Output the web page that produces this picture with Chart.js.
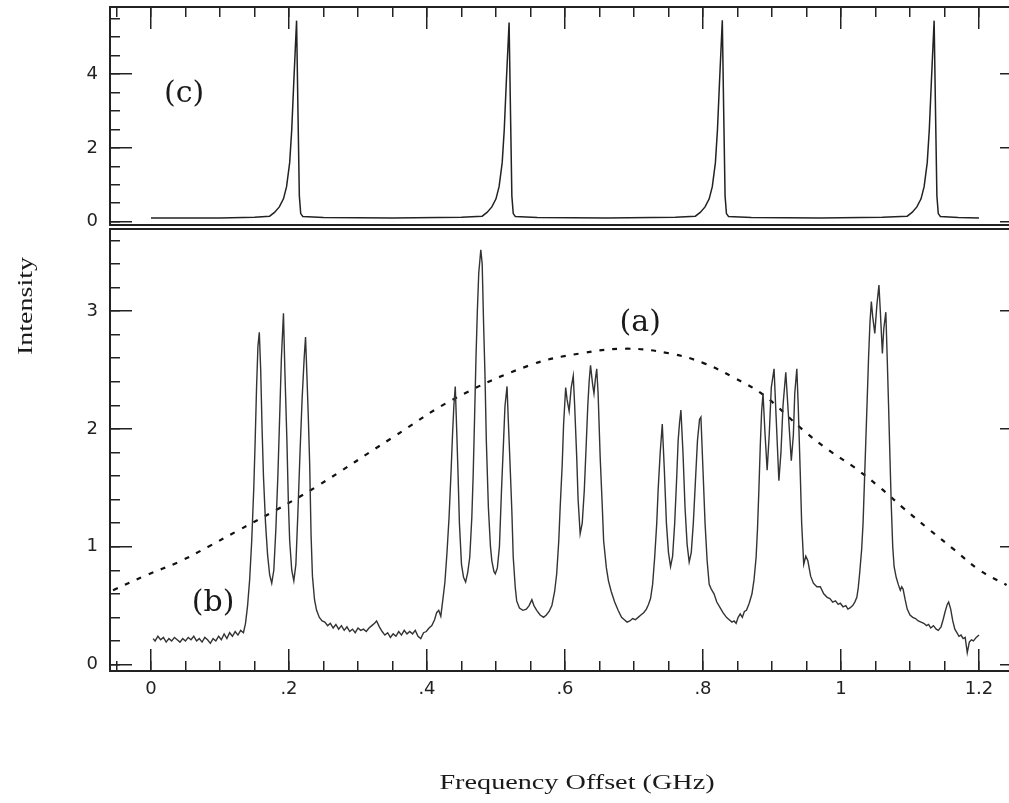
<!DOCTYPE html>
<html lang="en">
<head>
  <meta charset="UTF-8">
  <title>Frequency Offset spectrum</title>
  <style>
    body { margin: 0; background: #fff; }
    #wrap { position: relative; width: 1009px; height: 803px; overflow: hidden; }
    #wrap canvas { position: absolute; left: 0; top: 0; }
    .ttl { position: absolute; font-family: "Liberation Serif", serif; font-size: 20px; line-height: 20px;
           color: #1a1a1a; text-align: center; white-space: nowrap; }
    #xTitle { left: 327px; top: 772px; width: 500px; transform: scaleX(1.41); }
    #yTitle { left: -75px; top: 296px; width: 200px; transform: rotate(-90deg) scaleX(1.4); }
  </style>
</head>
<body>
  <div id="wrap">
    <canvas id="topChart" width="1009" height="803"></canvas>
    <canvas id="bottomChart" width="1009" height="803"></canvas>
    <div class="ttl" id="xTitle">Frequency Offset (GHz)</div>
    <div class="ttl" id="yTitle">Intensity</div>
  </div>

  <script src="https://cdn.jsdelivr.net/npm/chart.js"></script>
  <script>
    // shared frequency axis (GHz)
    const xMin = -0.0594, xMax = 1.2435;
    const xTickValues = [0, 0.2, 0.4, 0.6, 0.8, 1, 1.2];
    const xTickLabels = ['0', '.2', '.4', '.6', '.8', '1', '1.2'];

    // upper panel, trace (c)
    const topYMin = -0.09, topYMax = 5.82;
    const topTickValues = [0, 2, 4];
    const topTickLabels = ['0', '2', '4'];
    const traceC = [
      [0, 0.10], [0.10, 0.10], [0.15, 0.12], [0.172, 0.15], [0.179, 0.25], [0.186, 0.40], [0.192, 0.62],
      [0.1965, 0.95], [0.201, 1.6], [0.204, 2.5], [0.207, 3.8], [0.211, 5.45], [0.213, 3.0], [0.215, 0.7],
      [0.217, 0.22], [0.220, 0.14], [0.25, 0.11], [0.35, 0.10], [0.45, 0.12],
      [0.480, 0.15], [0.487, 0.25], [0.494, 0.40], [0.500, 0.62], [0.5045, 0.95], [0.509, 1.6], [0.512, 2.5],
      [0.515, 3.8], [0.519, 5.40], [0.521, 3.0], [0.523, 0.7], [0.525, 0.22], [0.528, 0.14],
      [0.56, 0.11], [0.66, 0.10], [0.76, 0.12],
      [0.789, 0.15], [0.796, 0.25], [0.803, 0.40], [0.809, 0.62], [0.8135, 0.95], [0.818, 1.6], [0.821, 2.5],
      [0.824, 3.8], [0.828, 5.46], [0.830, 3.0], [0.832, 0.7], [0.834, 0.22], [0.837, 0.14],
      [0.87, 0.11], [0.97, 0.10], [1.06, 0.12],
      [1.096, 0.15], [1.103, 0.25], [1.110, 0.40], [1.116, 0.62], [1.1205, 0.95], [1.125, 1.6], [1.128, 2.5],
      [1.131, 3.8], [1.135, 5.45], [1.137, 3.0], [1.139, 0.7], [1.141, 0.22], [1.144, 0.14],
      [1.17, 0.11], [1.20, 0.10]
    ];

    // lower panel, traces (b) and (a)
    const botYMin = -0.055, botYMax = 3.696;
    const botTickValues = [0, 1, 2, 3];
    const botTickLabels = ['0', '1', '2', '3'];
    const traceB = [
      [0.003, 0.22], [0.006, 0.20], [0.010, 0.24], [0.014, 0.21], [0.018, 0.23], [0.022, 0.19], [0.026, 0.22],
      [0.030, 0.20], [0.034, 0.23], [0.038, 0.21], [0.042, 0.19], [0.046, 0.22], [0.050, 0.20], [0.054, 0.23],
      [0.058, 0.21], [0.062, 0.24], [0.066, 0.20], [0.070, 0.22], [0.074, 0.19], [0.078, 0.23], [0.082, 0.21],
      [0.086, 0.18], [0.090, 0.22], [0.094, 0.20], [0.098, 0.24], [0.102, 0.21], [0.106, 0.26], [0.110, 0.22],
      [0.114, 0.27], [0.118, 0.24], [0.122, 0.28], [0.126, 0.25], [0.130, 0.29], [0.134, 0.27],
      [0.137, 0.35], [0.140, 0.50], [0.143, 0.72], [0.146, 1.05], [0.149, 1.50], [0.151, 1.90], [0.153, 2.35],
      [0.155, 2.70], [0.157, 2.82], [0.159, 2.50], [0.161, 2.00], [0.163, 1.60], [0.166, 1.20], [0.169, 0.93],
      [0.172, 0.76], [0.175, 0.69], [0.178, 0.80], [0.181, 1.15], [0.184, 1.62], [0.187, 2.20], [0.189, 2.60],
      [0.192, 2.98], [0.194, 2.50], [0.197, 1.90], [0.199, 1.40], [0.201, 1.05], [0.204, 0.80], [0.207, 0.71],
      [0.210, 0.85], [0.213, 1.30], [0.216, 1.80], [0.219, 2.25], [0.222, 2.60], [0.224, 2.78], [0.226, 2.45],
      [0.228, 2.10], [0.230, 1.70], [0.232, 1.10], [0.234, 0.75], [0.237, 0.55], [0.240, 0.46], [0.244, 0.40],
      [0.248, 0.37], [0.252, 0.36], [0.256, 0.33], [0.260, 0.35], [0.264, 0.31], [0.268, 0.34], [0.272, 0.30],
      [0.276, 0.33], [0.280, 0.29], [0.284, 0.32], [0.288, 0.28], [0.292, 0.30], [0.296, 0.27], [0.300, 0.31],
      [0.304, 0.29], [0.308, 0.30], [0.312, 0.28], [0.316, 0.31], [0.320, 0.33], [0.324, 0.35], [0.327, 0.37],
      [0.331, 0.32], [0.335, 0.28], [0.339, 0.25], [0.343, 0.27], [0.347, 0.23], [0.351, 0.26], [0.355, 0.24],
      [0.359, 0.28], [0.363, 0.25], [0.367, 0.29], [0.371, 0.26], [0.375, 0.28], [0.379, 0.26], [0.383, 0.29],
      [0.387, 0.24], [0.391, 0.22], [0.395, 0.27], [0.399, 0.28], [0.403, 0.31], [0.407, 0.33], [0.411, 0.38],
      [0.414, 0.44], [0.417, 0.46], [0.420, 0.41], [0.423, 0.55], [0.426, 0.70], [0.429, 0.95], [0.432, 1.25],
      [0.435, 1.65], [0.437, 1.95], [0.439, 2.20], [0.441, 2.36], [0.443, 2.00], [0.445, 1.62], [0.447, 1.20],
      [0.450, 0.85], [0.453, 0.74], [0.456, 0.70], [0.459, 0.78], [0.462, 0.91], [0.465, 1.25], [0.467, 1.62],
      [0.469, 2.10], [0.471, 2.60], [0.473, 3.00], [0.475, 3.32], [0.478, 3.52], [0.480, 3.40], [0.482, 2.90],
      [0.484, 2.47], [0.486, 1.90], [0.489, 1.33], [0.492, 1.00], [0.494, 0.88], [0.497, 0.79], [0.499, 0.77],
      [0.502, 0.82], [0.505, 1.00], [0.508, 1.48], [0.511, 1.90], [0.513, 2.19], [0.516, 2.36], [0.518, 2.05],
      [0.520, 1.76], [0.523, 1.30], [0.525, 0.91], [0.528, 0.65], [0.530, 0.54], [0.534, 0.48], [0.539, 0.46],
      [0.544, 0.47], [0.548, 0.50], [0.552, 0.55], [0.555, 0.50], [0.559, 0.46], [0.564, 0.42], [0.569, 0.40],
      [0.573, 0.42], [0.577, 0.45], [0.581, 0.50], [0.585, 0.62], [0.588, 0.77], [0.591, 1.05], [0.593, 1.33],
      [0.596, 1.70], [0.598, 2.04], [0.601, 2.35], [0.603, 2.25], [0.606, 2.15], [0.609, 2.35], [0.612, 2.45],
      [0.614, 2.20], [0.617, 1.76], [0.619, 1.40], [0.622, 1.11], [0.625, 1.20], [0.628, 1.48], [0.631, 1.90],
      [0.633, 2.19], [0.635, 2.40], [0.637, 2.54], [0.640, 2.38], [0.642, 2.30], [0.644, 2.42], [0.646, 2.51],
      [0.648, 2.30], [0.651, 1.76], [0.654, 1.35], [0.656, 1.05], [0.660, 0.82], [0.663, 0.71], [0.667, 0.62],
      [0.672, 0.53], [0.677, 0.46], [0.682, 0.40], [0.686, 0.38], [0.690, 0.36], [0.694, 0.37], [0.698, 0.39],
      [0.702, 0.38], [0.706, 0.40], [0.710, 0.42], [0.714, 0.44], [0.718, 0.47], [0.721, 0.51], [0.724, 0.56],
      [0.727, 0.68], [0.730, 0.91], [0.733, 1.20], [0.735, 1.48], [0.738, 1.80], [0.741, 2.04], [0.744, 1.65],
      [0.747, 1.20], [0.750, 0.95], [0.753, 0.83], [0.756, 0.92], [0.759, 1.20], [0.762, 1.60], [0.764, 1.90],
      [0.766, 2.05], [0.768, 2.16], [0.771, 1.80], [0.774, 1.33], [0.777, 1.02], [0.780, 0.87], [0.783, 0.95],
      [0.786, 1.20], [0.789, 1.55], [0.792, 1.90], [0.795, 2.08], [0.797, 2.10], [0.800, 1.65], [0.803, 1.20],
      [0.806, 0.88], [0.809, 0.68], [0.812, 0.64], [0.816, 0.60], [0.820, 0.53], [0.825, 0.48], [0.829, 0.44],
      [0.834, 0.40], [0.838, 0.38], [0.842, 0.36], [0.845, 0.37], [0.848, 0.35], [0.851, 0.40], [0.854, 0.43],
      [0.857, 0.40], [0.860, 0.45], [0.863, 0.46], [0.867, 0.52], [0.871, 0.60], [0.874, 0.72], [0.877, 0.91],
      [0.879, 1.15], [0.881, 1.48], [0.883, 1.85], [0.885, 2.15], [0.887, 2.30], [0.890, 1.95], [0.893, 1.65],
      [0.896, 1.95], [0.899, 2.35], [0.903, 2.51], [0.906, 2.10], [0.910, 1.56], [0.913, 1.80], [0.916, 2.20],
      [0.920, 2.48], [0.924, 2.10], [0.928, 1.73], [0.931, 1.95], [0.933, 2.30], [0.936, 2.51], [0.938, 2.20],
      [0.941, 1.62], [0.943, 1.20], [0.946, 0.85], [0.949, 0.92], [0.952, 0.88], [0.956, 0.75], [0.960, 0.69],
      [0.965, 0.66], [0.970, 0.66], [0.975, 0.60], [0.980, 0.57], [0.984, 0.56], [0.988, 0.53], [0.992, 0.54],
      [0.996, 0.51], [0.999, 0.52], [1.003, 0.49], [1.007, 0.50], [1.010, 0.47], [1.013, 0.48], [1.017, 0.50],
      [1.020, 0.53], [1.023, 0.57], [1.025, 0.65], [1.027, 0.77], [1.030, 0.98], [1.032, 1.20], [1.034, 1.55],
      [1.036, 1.90], [1.038, 2.25], [1.040, 2.61], [1.042, 2.90], [1.044, 3.08], [1.046, 2.95], [1.049, 2.81],
      [1.052, 3.05], [1.055, 3.22], [1.057, 3.00], [1.060, 2.64], [1.062, 2.85], [1.065, 2.99], [1.067, 2.60],
      [1.069, 2.19], [1.071, 1.75], [1.073, 1.33], [1.075, 1.00], [1.077, 0.83], [1.080, 0.74], [1.083, 0.68],
      [1.086, 0.63], [1.088, 0.66], [1.090, 0.64], [1.093, 0.55], [1.096, 0.47], [1.100, 0.42], [1.104, 0.40],
      [1.108, 0.39], [1.112, 0.37], [1.116, 0.36], [1.120, 0.35], [1.124, 0.33], [1.127, 0.34], [1.130, 0.31],
      [1.134, 0.33], [1.138, 0.30], [1.141, 0.29], [1.145, 0.32], [1.148, 0.38], [1.151, 0.45], [1.154, 0.51],
      [1.156, 0.53], [1.159, 0.47], [1.162, 0.37], [1.165, 0.30], [1.168, 0.27], [1.171, 0.24], [1.174, 0.25],
      [1.177, 0.22], [1.180, 0.23], [1.183, 0.10], [1.186, 0.19], [1.189, 0.21], [1.192, 0.20], [1.196, 0.23],
      [1.200, 0.25]
    ];
    const curveA = [
      [-0.055, 0.63], [-0.006, 0.76], [0.040, 0.87], [0.083, 1.00], [0.124, 1.13], [0.184, 1.32], [0.240, 1.51],
      [0.351, 1.93], [0.438, 2.25], [0.549, 2.54], [0.622, 2.64], [0.690, 2.68], [0.752, 2.64], [0.800, 2.56],
      [0.843, 2.44], [0.887, 2.29], [0.945, 1.99], [0.982, 1.82], [1.020, 1.67], [1.057, 1.50], [1.090, 1.33],
      [1.129, 1.14], [1.165, 0.97], [1.201, 0.80], [1.240, 0.675]
    ];

    // panel letters, placed at data coordinates
    const topNotes = ['(c)'];
    const topNotePos = [[0.048, 3.46]];
    const bottomNotes = ['(a)', '(b)'];
    const bottomNotePos = [[0.709, 2.90], [0.090, 0.52]];

    const ink = '#222';
    const tickFont = { family: 'DejaVu Sans', size: 18 };

    function fixedSize(size) {
      return s => {
        if (s.isHorizontal()) s.height = size; else s.width = size;
        s.paddingLeft = s.paddingRight = s.paddingTop = s.paddingBottom = 0;
      };
    }
    function labelFor(values, labels) {
      return v => {
        const i = values.findIndex(t => Math.abs(t - v) < 1e-6);
        return i < 0 ? '' : labels[i];
      };
    }
    // inward ticks come from a negative tick length; axes with labels get a real box
    function axis(position, min, max, step, len, border, labels, size) {
      const a = {
        type: 'linear', position, min, max,
        weight: labels ? 1 : 0,
        afterFit: fixedSize(size || 0),
        grid: { display: true, drawOnChartArea: false, drawTicks: len > 0, tickLength: -len,
                color: ink, lineWidth: 1.5, tickWidth: 1.5 },
        border: { display: border, color: ink, width: 2 },
        ticks: { stepSize: step, includeBounds: false, display: false, autoSkip: false }
      };
      if (labels) Object.assign(a.ticks, labels);
      return a;
    }

    const notesPlugin = {
      id: 'notes',
      afterDatasetsDraw(chart, args, opts) {
        const ctx = chart.ctx;
        ctx.save();
        ctx.font = '30px "DejaVu Serif"';
        ctx.fillStyle = '#1a1a1a';
        ctx.textAlign = 'center';
        ctx.textBaseline = 'middle';
        opts.text.forEach((t, i) => {
          const [vx, vy] = opts.pos[i];
          ctx.fillText(t, chart.scales.x.getPixelForValue(vx), chart.scales.y.getPixelForValue(vy));
        });
        ctx.restore();
      }
    };

    const pts = arr => arr.map(([x, y]) => ({ x, y }));
    const common = { responsive: false, animation: false, events: [] };

    // upper panel
    new Chart(document.getElementById('topChart'), {
      type: 'line',
      data: {
        datasets: [{
          data: pts(traceC), xAxisID: 'x', yAxisID: 'y',
          borderColor: ink, borderWidth: 1.5, pointRadius: 0, tension: 0
        }]
      },
      options: Object.assign({}, common, {
        layout: { padding: { left: 0, right: 0, top: 7, bottom: 803 - 225 } },
        plugins: { legend: { display: false }, tooltip: { enabled: false },
                   notes: { text: topNotes, pos: topNotePos } },
        scales: {
          x: axis('top', xMin, xMax, 0.05, 10, true),
          xMajor: axis('top', xMin, xMax, 0.2, 22, false),
          xLid: axis('bottom', xMin, xMax, 1, 0, true),
          y: axis('left', topYMin, topYMax, 0.5, 10, true),
          yMajor: axis('left', topYMin, topYMax, 2, 22, false, {
            display: true, padding: 34, font: tickFont, color: ink,
            callback: labelFor(topTickValues, topTickLabels)
          }, 110),
          yRight: axis('right', topYMin, topYMax, 2, 9, false)
        }
      }),
      plugins: [notesPlugin]
    });

    // lower panel
    new Chart(document.getElementById('bottomChart'), {
      type: 'line',
      data: {
        datasets: [{
          data: pts(traceB), xAxisID: 'x', yAxisID: 'y',
          borderColor: '#333', borderWidth: 1.4, pointRadius: 0, tension: 0
        }, {
          data: pts(curveA), xAxisID: 'x', yAxisID: 'y',
          borderColor: '#111', borderWidth: 2.2, borderDash: [5, 8], pointRadius: 0, tension: 0.4
        }]
      },
      options: Object.assign({}, common, {
        layout: { padding: { left: 0, right: 0, top: 229, bottom: 0 } },
        plugins: { legend: { display: false }, tooltip: { enabled: false },
                   notes: { text: bottomNotes, pos: bottomNotePos } },
        scales: {
          x: axis('bottom', xMin, xMax, 0.05, 10, true),
          xMajor: axis('bottom', xMin, xMax, 0.2, 22, false, {
            display: true, padding: 30, font: tickFont, color: ink,
            callback: labelFor(xTickValues, xTickLabels)
          }, 803 - 671),
          xLid: axis('top', xMin, xMax, 1, 0, true),
          y: axis('left', botYMin, botYMax, 0.2, 10, true),
          yMajor: axis('left', botYMin, botYMax, 1, 22, false, {
            display: true, padding: 34, font: tickFont, color: ink,
            callback: labelFor(botTickValues, botTickLabels)
          }, 110),
          yRight: axis('right', botYMin, botYMax, 1, 9, false)
        }
      }),
      plugins: [notesPlugin]
    });
  </script>
</body>
</html>
